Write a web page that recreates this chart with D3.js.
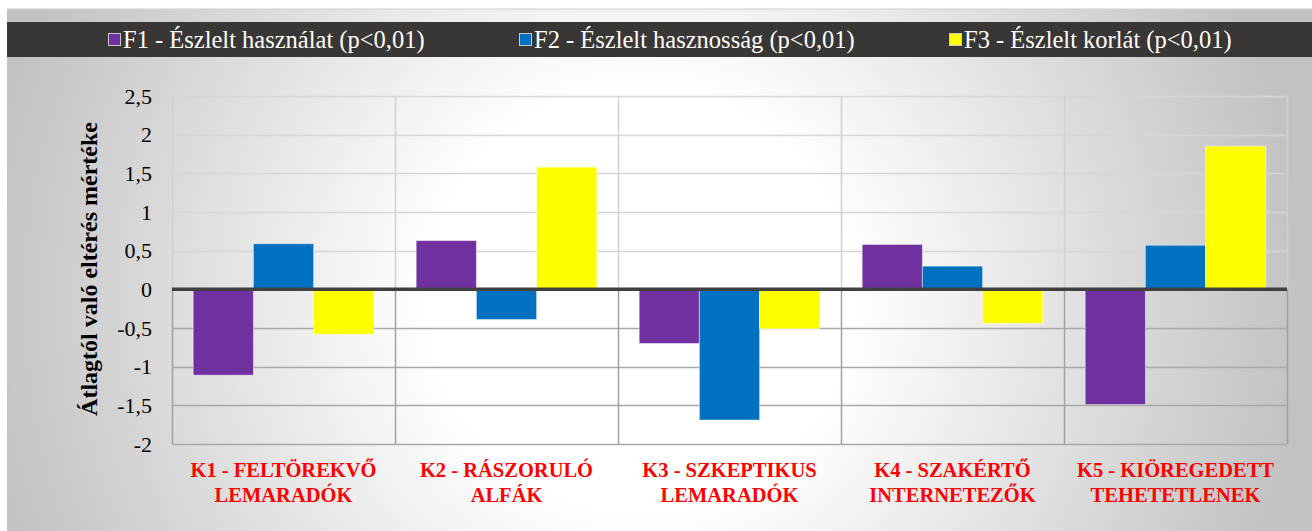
<!DOCTYPE html>
<html>
<head>
<meta charset="utf-8">
<script src="https://cdn.jsdelivr.net/npm/d3@7"></script>
<style>
    body { margin: 0; background: #fff; }
    svg { display: block; }
    text { font-family: 'Liberation Serif', 'Times New Roman', serif; }
</style>
</head>
<body>
<svg id="chart"></svg>
<script>
// Data
const categories = [
    ['K1 - FELTÖREKVŐ', 'LEMARADÓK'],
    ['K2 - RÁSZORULÓ', 'ALFÁK'],
    ['K3 - SZKEPTIKUS', 'LEMARADÓK'],
    ['K4 - SZAKÉRTŐ', 'INTERNETEZŐK'],
    ['K5 - KIÖREGEDETT', 'TEHETETLENEK']
];
const seriesNames = [
    'F1 - Észlelt használat (p<0,01)',
    'F2 - Észlelt hasznosság (p<0,01)',
    'F3 - Észlelt korlát (p<0,01)'
];
const f1Values = [-1.11, 0.63, -0.70, 0.58, -1.49];
const f2Values = [0.59, -0.39, -1.69, 0.30, 0.57];
const f3Values = [-0.58, 1.58, -0.51, -0.44, 1.85];
const yTicks = [-2, -1.5, -1, -0.5, 0, 0.5, 1, 1.5, 2, 2.5];

const colors = ['#7030A0', '#0070C0', '#FFFF00'];
const seriesValues = [f1Values, f2Values, f3Values];

const W = 1312, H = 531;
const margin = { top: 96, right: 25, bottom: 87, left: 172 };
const width = W - margin.left - margin.right;
const height = H - margin.top - margin.bottom;

const svg = d3.select('#chart')
    .attr('width', W)
    .attr('height', H);

// Background gradient
const defs = svg.append('defs');
const grad = defs.append('radialGradient')
    .attr('id', 'bg')
    .attr('gradientUnits', 'userSpaceOnUse')
    .attr('cx', 640).attr('cy', 300).attr('r', 700);
grad.append('stop').attr('offset', 0.3).attr('stop-color', '#ffffff');
grad.append('stop').attr('offset', 0.95).attr('stop-color', '#c2c2c2');

svg.append('rect')
    .attr('x', 7).attr('y', 9)
    .attr('width', W - 7).attr('height', H - 9)
    .attr('fill', 'url(#bg)');
svg.append('line')
    .attr('x1', 7).attr('x2', W).attr('y1', 9).attr('y2', 9)
    .attr('stroke', '#d0d0d0');

// Legend band
svg.append('rect')
    .attr('x', 7).attr('y', 22)
    .attr('width', W - 7).attr('height', 35)
    .attr('fill', '#393735');

const legendX = [108, 519, 949];
const legend = svg.append('g').attr('class', 'legend');
seriesNames.forEach((name, i) => {
    const g = legend.append('g').attr('transform', `translate(${legendX[i]}, 0)`);
    g.append('rect')
        .attr('x', 0.5).attr('y', 33.5)
        .attr('width', 12).attr('height', 12)
        .attr('fill', colors[i])
        .attr('stroke', '#c8c8c8')
        .attr('stroke-width', 1);
    g.append('text')
        .attr('x', 15).attr('y', 47.5)
        .attr('fill', '#ffffff')
        .style('font-size', '24.5px')
        .text(name);
});

// Scales
const x0 = d3.scaleBand()
    .domain(d3.range(categories.length))
    .range([0, width])
    .paddingInner(0.19)
    .paddingOuter(0.095);

const x1 = d3.scaleBand()
    .domain(d3.range(seriesNames.length))
    .range([0, x0.bandwidth()]);

const y = d3.scaleLinear()
    .domain([-2, 2.5])
    .range([height, 0]);

const chart = svg.append('g')
    .attr('transform', `translate(${margin.left}, ${margin.top})`);

// Grid lines (lighter above zero, darker below)
const gridColor = v => v > 0 ? '#d6d6d6' : '#a8a8a8';
chart.append('g').attr('class', 'grid')
    .selectAll('line')
    .data(yTicks.filter(d => d !== 0))
    .join('line')
    .attr('x1', 0).attr('x2', width)
    .attr('y1', d => Math.round(y(d)) + 0.5)
    .attr('y2', d => Math.round(y(d)) + 0.5)
    .attr('stroke', gridColor)
    .attr('stroke-width', 1.5);

// Vertical category dividers
const dividers = d3.range(categories.length + 1).map(i => i * x0.step());
const vlines = chart.append('g').attr('class', 'dividers');
dividers.forEach(xv => {
    vlines.append('line')
        .attr('x1', Math.round(xv) + 0.5).attr('x2', Math.round(xv) + 0.5)
        .attr('y1', 0).attr('y2', y(0))
        .attr('stroke', '#d0d0d0').attr('stroke-width', 1.5);
    vlines.append('line')
        .attr('x1', Math.round(xv) + 0.5).attr('x2', Math.round(xv) + 0.5)
        .attr('y1', y(0)).attr('y2', height)
        .attr('stroke', '#a0a0a0').attr('stroke-width', 1.5);
});

// Bars
const groups = chart.selectAll('.group')
    .data(categories)
    .join('g')
    .attr('class', 'group')
    .attr('transform', (d, i) => `translate(${x0(i)}, 0)`);

groups.selectAll('rect')
    .data((d, i) => seriesValues.map((vals, s) => ({ s: s, v: vals[i] })))
    .join('rect')
    .attr('x', d => x1(d.s))
    .attr('width', x1.bandwidth())
    .attr('y', d => y(Math.max(0, d.v)))
    .attr('height', d => Math.abs(y(d.v) - y(0)))
    .attr('fill', d => colors[d.s])
    .attr('stroke', '#ffffff')
    .attr('stroke-opacity', 0.45)
    .attr('stroke-width', 1);

// Zero line
chart.append('line')
    .attr('x1', 0).attr('x2', width)
    .attr('y1', y(0)).attr('y2', y(0))
    .attr('stroke', '#404040')
    .attr('stroke-width', 3.5);

// Y axis tick labels
chart.append('g').attr('class', 'y-axis')
    .selectAll('text')
    .data(yTicks)
    .join('text')
    .attr('x', -20)
    .attr('y', d => y(d))
    .attr('dy', '0.35em')
    .attr('text-anchor', 'end')
    .attr('fill', '#000')
    .style('font-size', '22px')
    .text(d => String(d).replace('.', ','));

// Y axis title
svg.append('text')
    .attr('transform', `translate(97, 269) rotate(-90)`)
    .attr('text-anchor', 'middle')
    .style('font-size', '24px')
    .style('font-weight', 'bold')
    .text('Átlagtól való eltérés mértéke');

// Category labels
const catLabels = chart.append('g').attr('class', 'x-labels')
    .selectAll('text')
    .data(categories)
    .join('text')
    .attr('x', (d, i) => (i + 0.5) * x0.step())
    .attr('y', height + 33)
    .attr('text-anchor', 'middle')
    .attr('fill', '#ff0000')
    .style('font-size', '20.5px')
    .style('font-weight', 'bold');

catLabels.selectAll('tspan')
    .data(d => d)
    .join('tspan')
    .attr('x', function () { return d3.select(this.parentNode).attr('x'); })
    .attr('dy', (d, i) => i === 0 ? 0 : 25)
    .text(d => d);
</script>
</body>
</html>
